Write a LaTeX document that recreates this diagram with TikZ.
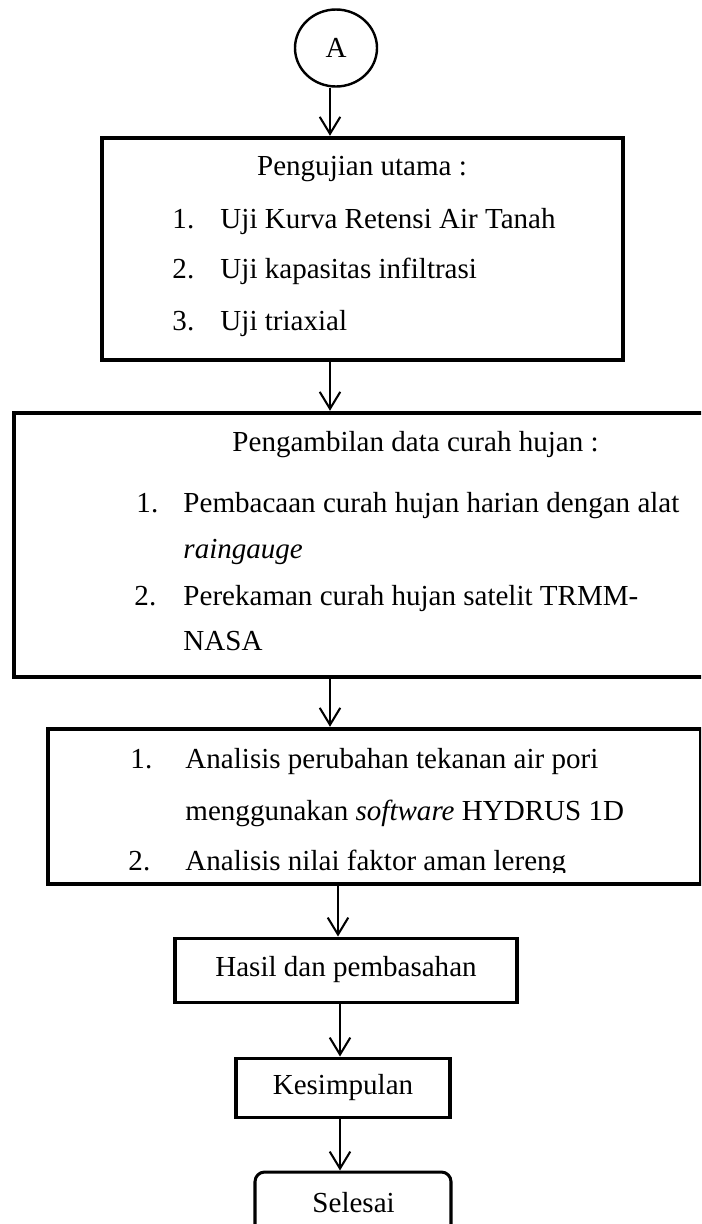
\documentclass[tikz,border=0pt]{standalone}
\usepackage{fontspec}
\setmainfont{Liberation Serif}
\usepackage{tikz}
\usetikzlibrary{arrows.meta,positioning,calc,shapes.geometric}
\newcommand{\pxu}{0.4132pt}

\begin{document}
\begin{tikzpicture}[x=0.4132pt, y=-0.4132pt, >={Straight Barb[length=7pt,width=8.5pt]}, font=\fontsize{12}{14}\selectfont]
	\tikzstyle{bigbox}=[draw=black, line width=1.86pt, inner sep=0pt]
	\tikzstyle{smallbox}=[draw=black, line width=1.25pt, inner sep=0pt]
	\tikzstyle{flow}=[->, line width=0.85pt]
	\tikzstyle{txt}=[anchor=base west, inner sep=0pt]
	\useasboundingbox (0,0) rectangle (701,1224);
	\clip (0,0) rectangle (701,1224);
	% columns of the connectors
	\coordinate (colA) at (330,0);
	\coordinate (colB) at (338,0);
	\coordinate (colC) at (340,0);
	% boxes
	\node[ellipse, draw=black, line width=1pt, minimum width=82*\pxu, minimum height=77*\pxu] (A) at (336,48) {A};
	\node[bigbox, minimum width=521*\pxu, minimum height=222*\pxu] (uji) at (362.5,249) {};
	\node[bigbox, minimum width=690*\pxu, minimum height=264*\pxu] (hujan) at (359,545) {};
	\node[bigbox, minimum width=653*\pxu, minimum height=155*\pxu] (analisis) at (374.5,806.5) {};
	\node[smallbox, minimum width=342*\pxu, minimum height=64*\pxu] (hasil) at (346,970) {Hasil dan pembasahan};
	\node[smallbox, minimum width=214*\pxu, minimum height=59*\pxu] (simpul) at (343,1087.5) {Kesimpulan};
	\node[smallbox, rounded corners=4pt, minimum width=196*\pxu, minimum height=68*\pxu] (selesai) at (353,1206) {};
	\node[txt] (selesaiT) at (312,1212) {Selesai};
	% texts of the first box
	\node[anchor=base, inner sep=0pt] (ujiH) at (362,175) {Pengujian utama :};
	\node[txt] (uji1n) at (172,228) {1.};
	\node[txt] (uji1) at (220,228) {Uji Kurva Retensi Air Tanah};
	\node[txt] (uji2n) at (172,278) {2.};
	\node[txt] (uji2) at (220,278) {Uji kapasitas infiltrasi};
	\node[txt] (uji3n) at (172,330) {3.};
	\node[txt] (uji3) at (220,330) {Uji triaxial};
	% texts of the second box
	\node[txt] (hujanH) at (232,451) {Pengambilan data curah hujan :};
	\node[txt] (hujan1n) at (136,512) {1.};
	\node[txt] (hujan1) at (183,512) {Pembacaan curah hujan harian dengan alat};
	\node[txt] (hujan1b) at (183,558) {\textit{raingauge}};
	\node[txt] (hujan2n) at (134,605) {2.};
	\node[txt] (hujan2) at (183,605) {Perekaman curah hujan satelit TRMM-};
	\node[txt] (hujan2b) at (183,650) {NASA};
	% texts of the third box
	\node[txt] (ana1n) at (130,768) {1.};
	\node[txt] (ana1) at (185,768) {Analisis perubahan tekanan air pori};
	\node[txt] (ana1b) at (185,820) {menggunakan \textit{software} HYDRUS 1D};
	\begin{scope}
		\clip (0,730) rectangle (701,872);
		\node[txt] (ana2n) at (128,870) {2.};
		\node[txt] (ana2) at (185,870) {Analisis nilai faktor aman lereng};
	\end{scope}
	% connectors
	\draw[flow] (A.south -| colA) -- (uji.north -| colA);
	\draw[flow] (uji.south -| colA) -- (hujan.north -| colA);
	\draw[flow] (hujan.south -| colA) -- (analisis.north -| colA);
	\draw[flow] (analisis.south -| colB) -- (hasil.north -| colB);
	\draw[flow] (hasil.south -| colC) -- (simpul.north -| colC);
	\draw[flow] (simpul.south -| colC) -- (selesai.north -| colC);
\end{tikzpicture}
\end{document}
